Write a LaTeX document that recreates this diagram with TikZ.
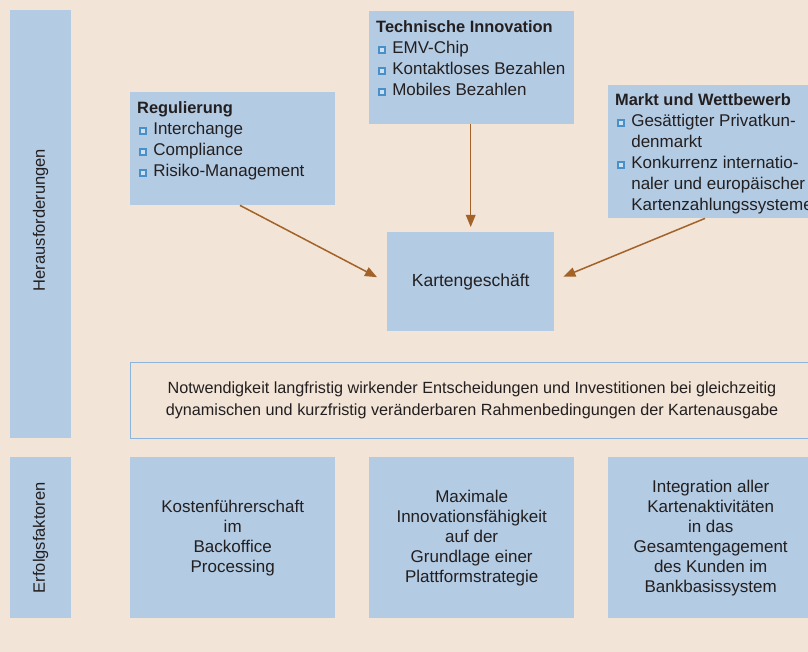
\documentclass[tikz,border=0pt]{standalone}
\usepackage{fontspec}
\setmainfont{Liberation Sans}
\usetikzlibrary{arrows.meta,calc}

\definecolor{bg}{RGB}{242,228,214}
\definecolor{boxblue}{RGB}{179,203,227}
\definecolor{arrowbrown}{RGB}{163,98,40}
\definecolor{ink}{RGB}{35,31,32}
\definecolor{frameblue}{RGB}{141,180,220}
\definecolor{bulletedge}{RGB}{74,144,200}
\definecolor{bulletfill}{RGB}{205,224,242}

% small framed square used as list bullet
\newcommand\sqbullet{\tikz[baseline=0pt]\draw[bulletedge,fill=bulletfill,line width=1.4pt] (0.7pt,0.8pt) rectangle (6.9pt,7pt);}
\newcommand\listtitle[1]{\multicolumn{2}{@{}l@{}}{\fontsize{16.4}{21}\selectfont\bfseries #1}}

\begin{document}
\begin{tikzpicture}[x=1pt,y=1pt,
  box/.style={fill=boxblue, draw=none, inner sep=0pt, anchor=north west, text=ink},
  listtext/.style={anchor=base west, inner sep=0pt, text=ink, font=\fontsize{17}{21}\selectfont},
  sidelabel/.style={rotate=90, inner sep=0pt, text=ink, font=\fontsize{16.5}{20}\selectfont},
  factor/.style={box, minimum width=205, minimum height=161, align=center, font=\fontsize{17}{20}\selectfont},
  arr/.style={draw=arrowbrown, line width=1.5pt, -{Triangle[length=12pt,width=9.5pt]}}]

\clip (0,0) rectangle (808,-652);
\fill[bg] (0,0) rectangle (808,-652);

% side bars
\node[box, minimum width=61, minimum height=428] (hbar) at (10,-10) {};
\node[box, minimum width=61, minimum height=161] (ebar) at (10,-457) {};
\node[sidelabel] (hlabel) at (40.5,-220) {Herausforderungen};
\node[sidelabel] (elabel) at (ebar.center) {Erfolgsfaktoren};

% challenges
\node[box, minimum width=205, minimum height=113] (reg) at (130,-92) {};
\node[box, minimum width=205, minimum height=113] (tech) at (369,-11) {};
\node[box, minimum width=205, minimum height=133] (markt) at (608,-85) {};
\node[box, minimum width=167, minimum height=99, font=\fontsize{17.5}{21}\selectfont] (karten) at (387,-232) {Kartengeschäft};

\node[listtext] (regtext) at ($(reg.north west)+(7,-22)$) {%
  \begin{tabular}[t]{@{\hspace{2pt}}l@{\hspace{6.5pt}}l@{}}
  \listtitle{Regulierung}\\
  \sqbullet & Interchange\\
  \sqbullet & Compliance\\
  \sqbullet & Risiko-Management
  \end{tabular}};

\node[listtext] (techtext) at ($(tech.north west)+(7,-22)$) {%
  \begin{tabular}[t]{@{\hspace{2pt}}l@{\hspace{6.5pt}}l@{}}
  \listtitle{Technische Innovation}\\
  \sqbullet & EMV-Chip\\
  \sqbullet & Kontaktloses Bezahlen\\
  \sqbullet & Mobiles Bezahlen
  \end{tabular}};

\node[listtext] (markttext) at ($(markt.north west)+(7,-21)$) {%
  \begin{tabular}[t]{@{\hspace{2pt}}l@{\hspace{6.5pt}}l@{}}
  \listtitle{Markt und Wettbewerb}\\
  \sqbullet & Gesättigter Privatkun-\\
            & denmarkt\\
  \sqbullet & Konkurrenz internatio-\\
            & naler und europäischer\\
            & Kartenzahlungssysteme
  \end{tabular}};

% influences on the card business
\draw[arr] ([xshift=110pt]reg.south west) -- ([xshift=-10pt,yshift=4.5pt]karten.west);
\draw[arr] (karten.north |- tech.south) -- ([yshift=5pt]karten.north);
\draw[arr] ([xshift=97pt]markt.south west) -- ([xshift=9pt,yshift=5pt]karten.east);

% framing condition
\node[draw=frameblue, line width=1pt, inner sep=0pt, anchor=north west,
      minimum width=683, minimum height=76, align=center, text=ink,
      font=\fontsize{16.2}{22.5}\selectfont] (need) at (130,-362)
  {Notwendigkeit langfristig wirkender Entscheidungen und Investitionen bei gleichzeitig\\
   dynamischen und kurzfristig veränderbaren Rahmenbedingungen der Kartenausgabe};

% success factors
\node[factor] (f1) at (130,-457) {Kostenführerschaft\\im\\Backoffice\\Processing};
\node[factor] (f2) at (369,-457) {Maximale\\Innovationsfähigkeit\\auf der\\Grundlage einer\\Plattformstrategie};
\node[factor] (f3) at (608,-457) {Integration aller\\Kartenaktivitäten\\in das\\Gesamtengagement\\des Kunden im\\Bankbasissystem};

\end{tikzpicture}
\end{document}
